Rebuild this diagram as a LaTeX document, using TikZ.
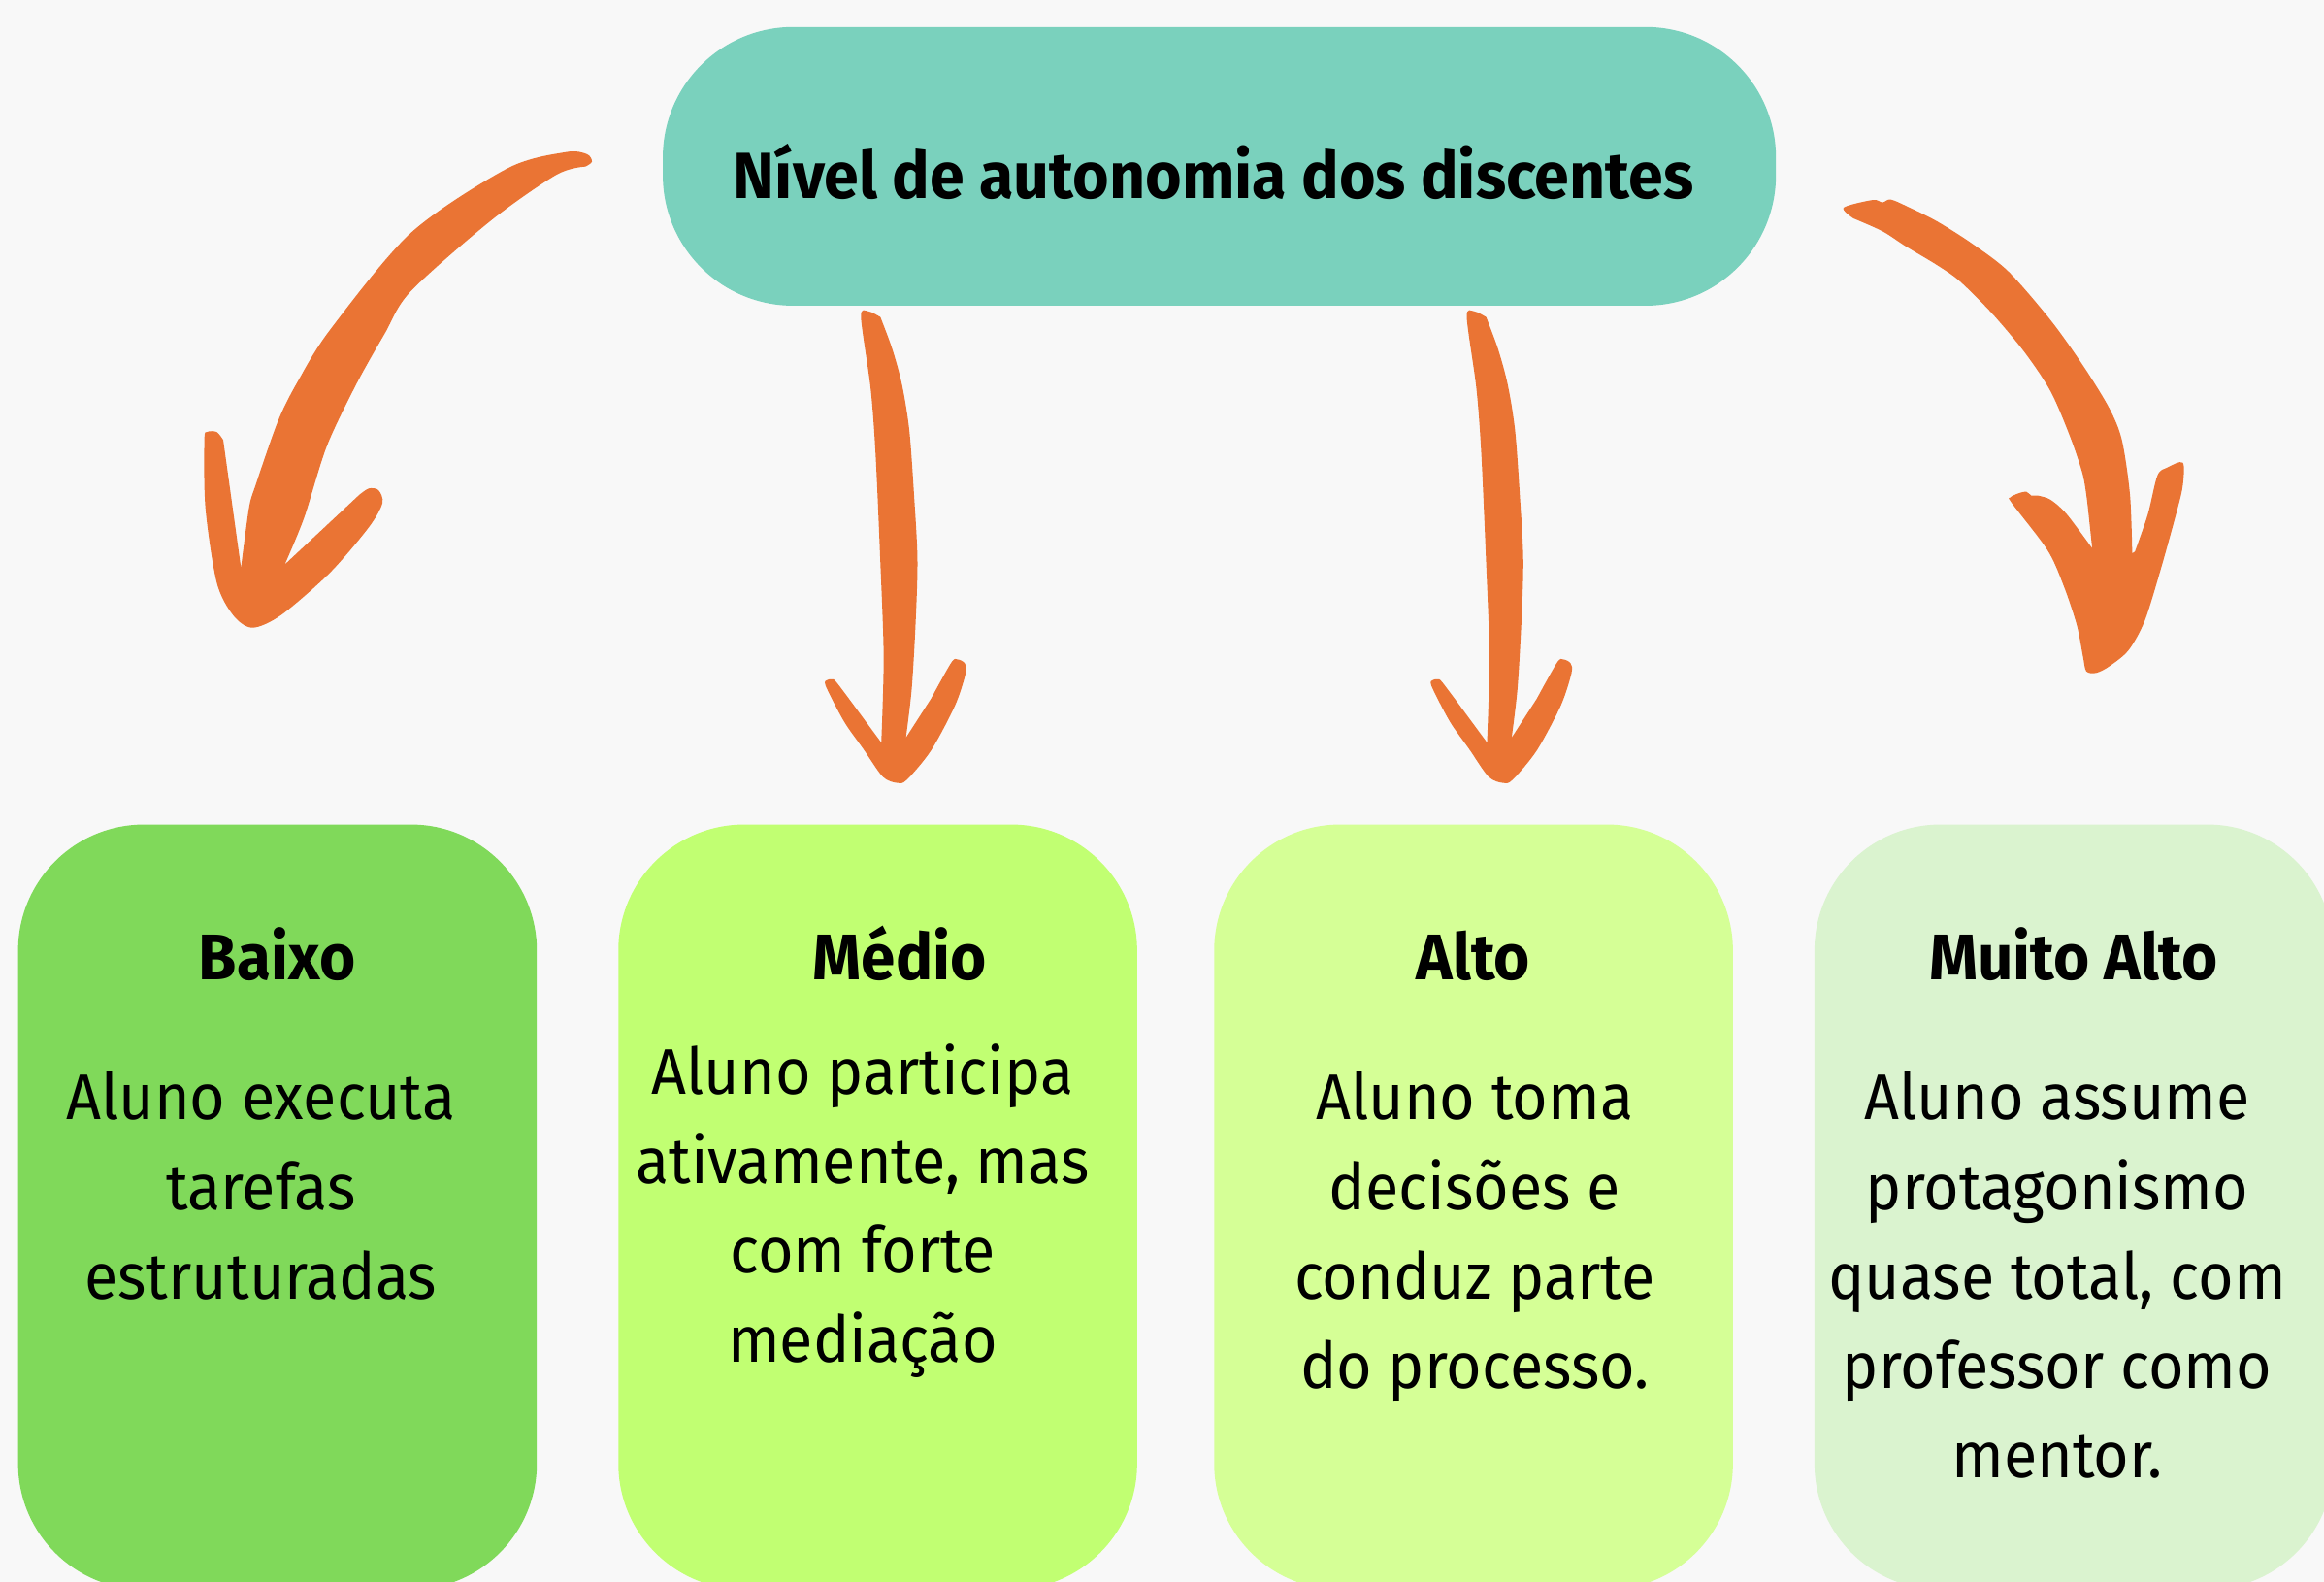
\documentclass[tikz,border=0pt]{standalone}
\usepackage{fontspec}
\newfontfamily\bodyfont{Fira Sans}[FakeStretch=0.945]
\newfontfamily\headfont{Fira Sans}[FakeStretch=0.96]
\definecolor{bgc}{HTML}{F8F8F8}
\definecolor{hdr}{HTML}{7AD1BD}
\definecolor{arrowc}{HTML}{EA7434}
\definecolor{cA}{HTML}{80D95A}
\definecolor{cB}{HTML}{C1FF72}
\definecolor{cC}{HTML}{D5FF96}
\definecolor{cD}{HTML}{DAF3CF}
\newcommand\straightbrusharrow{%
\fill[brush] plot[smooth,tension=0.5] coordinates {(594.0,213.9)(585.8,210.0)(580.9,213.9)(587.4,261.9)(590.7,305.5)(593.9,377.6)(596.2,443.0)(594.6,500.9)}
 -- plot[smooth,tension=0.5] coordinates {(582.5,484.5)(564.6,460.5)(561.3,458.3)(558.1,458.7)(557.1,462.7)(569.5,486.7)(582.5,505.2)(595.5,523.8)(605.3,528.1)(611.8,526.0)(628.1,506.3)(644.4,475.8)(651.6,453.9)(650.9,447.4)(646.0,444.8)(641.8,447.0)(628.1,471.4)}
 -- plot[smooth,tension=0.5] coordinates {(611.2,497.6)(615.1,464.9)(617.7,421.2)(619.0,377.6)(616.7,333.9)(613.5,290.3)(608.6,259.7)(602.1,235.7)(594.0,213.9)} -- cycle;}
\begin{document}
\begin{tikzpicture}[x=1pt,y=-1pt,
  box/.style={rectangle, rounded corners=85pt, minimum width=350pt, minimum height=516pt, inner sep=0pt, anchor=north west},
  ttl/.style={font=\headfont\bfseries\fontsize{43.5}{52}\selectfont, anchor=base, inner sep=0pt},
  body/.style={font=\bodyfont\fontsize{43.5}{60.3}\selectfont, align=center, anchor=base, inner sep=0pt},
  brush/.style={fill=arrowc}]
\useasboundingbox (0,0) rectangle (1568,1067);
\clip (0,0) rectangle (1568,1067);
\fill[bgc] (0,0) rectangle (1568,1067);
% header
\node[rectangle, fill=hdr, minimum width=751pt, minimum height=188pt, rounded corners=88pt, inner sep=0pt, anchor=north west] (top) at (447,18) {};
\node[ttl, font=\headfont\bfseries\fontsize{44}{52}\selectfont] (toptext) at (818.5,134) {Nível de autonomia dos discentes};
% boxes
\node[box, fill=cA] (b1) at (12,556) {};
\node[box, fill=cB] (b2) at (417,556) {};
\node[box, fill=cC] (b3) at (819,556) {};
\node[box, fill=cD] (b4) at (1224,556) {};
% titles
\node[ttl] (t1) at (187,661) {Baixo};
\node[ttl] (t2) at (607,661) {Médio};
\node[ttl] (t3) at (994,661) {Alto};
\node[ttl] (t4) at (1399,661) {Muito Alto};
% bodies (base anchor = last line baseline)
\node[body] (d1) at (176,876.1) {Aluno executa\\tarefas\\estruturadas};
\node[body] (d2) at (582,918.9) {Aluno participa\\ativamente, mas\\com forte\\mediação};
\node[body] (d3) at (995,936.4) {Aluno toma\\decisões e\\conduz parte\\do processo.};
\node[body] (d4) at (1388,996.7) {Aluno assume\\protagonismo\\quase total, com\\professor como\\mentor.};
% arrows
\fill[brush] plot[smooth,tension=0.5] coordinates {(395.0,112.4)(399.4,109.1)(396,104)(381.9,102.6)(342.6,113.5)(277.2,157.1)(222.6,222.6)(200.8,257.5)(187.7,283.7)(172.4,327.4)(168.0,342.6)(162.6,383.0)}
 -- plot[smooth,tension=0.5] coordinates {(150.6,296.8)(146.2,291.4)(139.7,291.4)(137.9,296.8)(138.6,342.6)(146.2,392.8)(157.1,414.7)(170.2,423.4)(189.9,414.7)(222.6,386.3)(248.8,355.7)(258.0,339.4)(255.3,330.6)(248.8,329.5)(242.3,333.9)}
 -- plot[smooth,tension=0.5] coordinates {(192.1,380.8)(205.2,349.2)(220.4,301.2)(240.1,259.7)(259.7,224.8)(277.2,196.4)(331.7,148.4)(375.4,117.9)(395.0,112.4)} -- cycle;
\straightbrusharrow
\begin{scope}[shift={(408.7,0)}]
\straightbrusharrow
\end{scope}
\fill[brush] plot[smooth,tension=0.5] coordinates {(1250.5,147.3)(1243.9,140.1)(1263.6,134.9)(1270.1,136.6)(1275.6,134.6)(1287.6,139.7)(1307.2,149.5)(1331.2,164.8)(1355.2,183.3)(1383.6,216.1)(1405.4,246.6)(1422.9,275.0)(1431.6,296.8)(1437.1,333.9)(1438.6,373.2)}
 -- plot[smooth,tension=0.5] coordinates {(1440.4,372.1)(1449.1,347.0)(1455.6,320.8)(1462.2,315.4)(1472.7,312.1)(1472.7,327.4)(1468.7,344.8)(1457.8,384.1)(1446.9,419.0)(1436.0,438.7)(1422.9,449.6)(1414.2,453.9)(1407.6,452.8)(1405.4,443.0)(1401.1,421.2)(1392.3,395.0)(1381.4,371.0)(1357.4,339.4)(1356.3,335.6)(1361.8,332.8)(1367.2,331.7)(1370.5,334.3)(1374.9,334.3)(1383.6,337.2)(1394.5,347.0)(1411.6,369.9)}
 -- plot[smooth,tension=0.5] coordinates {(1408.7,342.6)(1405.4,320.8)(1396.7,294.6)(1383.6,264.1)(1366.2,237.9)(1344.3,211.7)(1322.5,189.9)(1307.2,179.0)(1285.4,165.9)(1270.1,156.0)(1250.5,147.3)} -- cycle;
\end{tikzpicture}
\end{document}
